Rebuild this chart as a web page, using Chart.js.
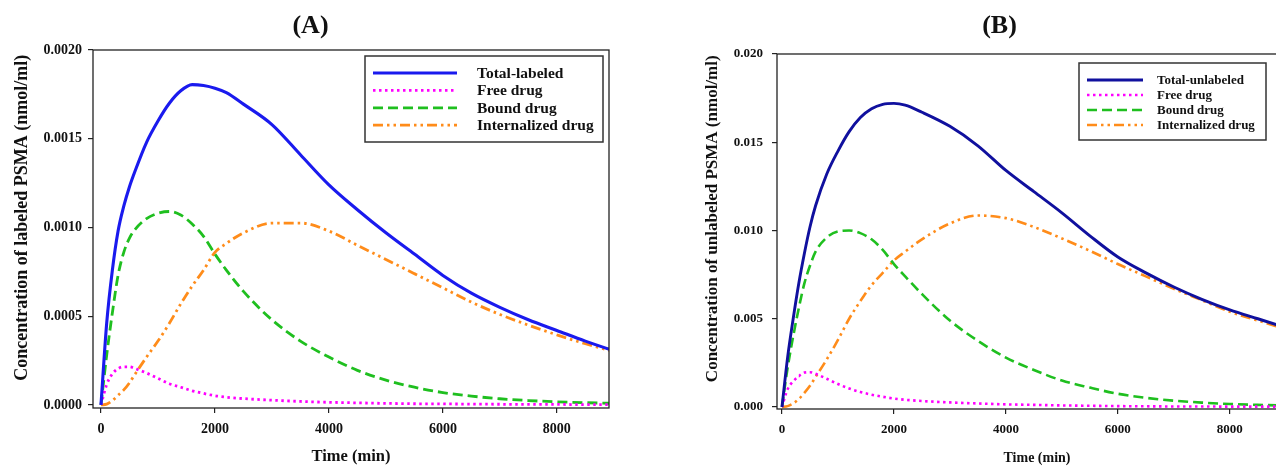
<!DOCTYPE html>
<html>
<head>
<meta charset="utf-8">
<script src="https://cdn.jsdelivr.net/npm/chart.js@4.4.1/dist/chart.umd.min.js"></script>
<style>
  html, body { margin: 0; padding: 0; background: #fff; }
  body { width: 1276px; height: 467px; overflow: hidden; position: relative; }
  .wrap { position: absolute; top: 0; height: 467px; }
  #wrapA { left: 0; width: 640px; }
  #wrapB { left: 640px; width: 730px; }
  #fontWarm { position: absolute; left: -9999px; font: bold 16px 'Liberation Serif'; }
</style>
</head>
<body>
<span id="fontWarm">Concentration (A)</span>
<div class="wrap" id="wrapA"><canvas id="chartA"></canvas></div>
<div class="wrap" id="wrapB"><canvas id="chartB"></canvas></div>
<script>
// time grid (min), same for both panels
const timeMin = [0, 100, 200, 300, 400, 500, 600, 800, 1000, 1200, 1400, 1600, 1800, 2000, 2200,
  2500, 3000, 3500, 4000, 4500, 5000, 5500, 6000, 6500, 7000, 7500, 8000, 8500, 9000];

// (A) labeled PSMA, nmol/ml
const totalLabeled = [0, 0.00046, 0.00076, 0.00098, 0.00112, 0.00123, 0.00132, 0.00148, 0.00160, 0.00170,
  0.00177, 0.001805, 0.00180, 0.001785, 0.00176, 0.001695, 0.00158, 0.00141, 0.00124, 0.00110,
  0.00097, 0.00085, 0.00073, 0.00063, 0.00055, 0.00048, 0.00042, 0.00036, 0.000305];
const freeA = [0, 0.000115, 0.000175, 0.000205, 0.000215, 0.000215, 0.000205, 0.00018, 0.00015, 0.00012,
  0.0001, 0.00008, 0.000065, 0.000052, 0.000044, 0.000036, 0.000027, 0.00002, 0.000015, 0.000012,
  0.000009, 0.000007, 0.000006, 0.000005, 0.000004, 0.000003, 0.000003, 0.000002, 0.000002];
const boundA = [0, 0.00028, 0.00052, 0.00073, 0.00086, 0.00094, 0.00099, 0.00105, 0.00108, 0.00109,
  0.00107, 0.00102, 0.00095, 0.00085, 0.00076, 0.00064, 0.00048, 0.00036, 0.00027, 0.000195,
  0.00014, 0.0001, 0.00007, 0.00005, 0.000035, 0.000025, 0.000018, 0.000013, 0.000009];
const internalizedA = [0, 0.000005, 0.000025, 0.000055, 0.000085, 0.000125, 0.000175, 0.00027, 0.00036, 0.00046,
  0.00057, 0.00067, 0.00076, 0.00086, 0.00091, 0.00097, 0.001025, 0.001025, 0.00098, 0.0009,
  0.00082, 0.00074, 0.00066, 0.00058, 0.00051, 0.00045, 0.000395, 0.000345, 0.0003];

// (B) unlabeled PSMA, nmol/ml
const totalUnlabeled = [0, 0.0028, 0.005, 0.007, 0.0087, 0.0102, 0.0114, 0.0132, 0.0145, 0.0156,
  0.0164, 0.0169, 0.01715, 0.0172, 0.0171, 0.0167, 0.0159, 0.0148, 0.0134, 0.0122,
  0.011, 0.0097, 0.0085, 0.0076, 0.0068, 0.0061, 0.0055, 0.005, 0.0045];
const freeB = [0, 0.001, 0.00145, 0.00175, 0.00195, 0.00197, 0.00188, 0.0016, 0.0013, 0.00105,
  0.00085, 0.0007, 0.00058, 0.00048, 0.00041, 0.00034, 0.00026, 0.0002, 0.00015, 0.00012,
  0.00009, 0.00007, 0.00005, 0.00004, 0.00003, 0.00003, 0.00002, 0.00002, 0.00002];
const boundB = [0, 0.0022, 0.004, 0.0056, 0.007, 0.008, 0.0088, 0.0096, 0.00995, 0.01,
  0.00985, 0.0095, 0.0089, 0.0081, 0.0074, 0.0064, 0.0049, 0.00375, 0.0028, 0.0021,
  0.0015, 0.0011, 0.00075, 0.00052, 0.00036, 0.00025, 0.00017, 0.00012, 0.00008];
const internalizedB = [0, 0.00005, 0.0002, 0.00045, 0.0008, 0.0012, 0.0017, 0.0027, 0.0038, 0.005,
  0.006, 0.0069, 0.0076, 0.0083, 0.0088, 0.0095, 0.0104, 0.01085, 0.0107, 0.0102,
  0.00955, 0.00885, 0.0081, 0.0074, 0.0067, 0.00605, 0.0054, 0.0049, 0.0044];

const xTicks = [0, 2000, 4000, 6000, 8000];
const yTicksA = [0, 0.0005, 0.001, 0.0015, 0.002];
const yTicksB = [0, 0.005, 0.01, 0.015, 0.02];

const SERIF = "'Liberation Serif', 'Times New Roman', serif";
const NB = '\u00a0';

function pts(t, v) {
  return t.map((x, i) => ({ x: x, y: v[i] }));
}

function makeSets(total, totalLabel, totalColor, free, bound, intern, w) {
  return [
    { label: totalLabel, data: pts(timeMin, total), borderColor: totalColor, borderWidth: w + 0.3 },
    { label: 'Free drug', data: pts(timeMin, free), borderColor: '#ff00ff', borderWidth: w, borderDash: [2.5, 3.5] },
    { label: 'Bound drug', data: pts(timeMin, bound), borderColor: '#1fbf1f', borderWidth: w, borderDash: [10, 5] },
    { label: 'Internalized drug', data: pts(timeMin, intern), borderColor: '#ff8c1a', borderWidth: w, borderDash: [10, 4, 2.5, 4, 2.5, 4] }
  ];
}

// box round the plot area
const framePlugin = {
  id: 'frame',
  afterDatasetsDraw(chart) {
    const a = chart.chartArea;
    const ctx = chart.ctx;
    ctx.save();
    ctx.strokeStyle = '#222';
    ctx.lineWidth = 1.3;
    ctx.strokeRect(a.left, a.top, a.right - a.left, a.bottom - a.top);
    ctx.restore();
  }
};

// legend with a border, like the original figure
const boxLegend = {
  id: 'boxLegend',
  afterDraw(chart, args, o) {
    const ctx = chart.ctx;
    ctx.save();
    ctx.fillStyle = '#fff';
    ctx.fillRect(o.x, o.y, o.w, o.h);
    ctx.strokeStyle = '#333';
    ctx.lineWidth = 1.5;
    ctx.strokeRect(o.x, o.y, o.w, o.h);
    chart.data.datasets.forEach((ds, i) => {
      const y = o.y + o.rowTop + i * o.rowGap;
      ctx.beginPath();
      ctx.setLineDash(ds.borderDash || []);
      ctx.strokeStyle = ds.borderColor;
      ctx.lineWidth = ds.borderWidth;
      ctx.moveTo(o.x + o.lineStart, y);
      ctx.lineTo(o.x + o.lineEnd, y);
      ctx.stroke();
      ctx.setLineDash([]);
      ctx.fillStyle = '#111';
      ctx.font = 'bold ' + o.fontSize + 'px ' + SERIF;
      ctx.textBaseline = 'middle';
      ctx.fillText(ds.label, o.x + o.textStart, y + 1);
    });
    ctx.restore();
  }
};

function makeChart(id, cfg) {
  return new Chart(document.getElementById(id).getContext('2d'), {
    type: 'line',
    data: { datasets: cfg.datasets },
    options: {
      responsive: true,
      maintainAspectRatio: false,
      animation: false,
      devicePixelRatio: 1,
      layout: { padding: cfg.padding },
      elements: {
        point: { radius: 0 },
        line: { cubicInterpolationMode: 'monotone', fill: false }
      },
      plugins: {
        legend: { display: false },
        tooltip: { enabled: false },
        title: {
          display: true,
          text: cfg.title,
          color: '#111',
          font: { family: SERIF, size: 26, weight: 'bold' },
          padding: cfg.titlePad
        },
        boxLegend: cfg.legend
      },
      scales: {
        x: {
          type: 'linear',
          min: cfg.xMin,
          max: cfg.xMax,
          afterBuildTicks: s => { s.ticks = xTicks.map(v => ({ value: v })); },
          afterFit: s => { s.height = cfg.xHeight; },
          ticks: {
            autoSkip: false,
            maxRotation: 0,
            color: '#111',
            padding: 8,
            font: { family: SERIF, size: cfg.tickSize, weight: 'bold' },
            callback: v => String(v)
          },
          grid: { drawOnChartArea: false, tickLength: 5, color: '#222', lineWidth: 1.2 },
          border: { display: false },
          title: {
            display: true,
            text: 'Time (min)',
            color: '#111',
            padding: 0,
            font: { family: SERIF, size: cfg.xTitleSize, weight: 'bold' }
          }
        },
        y: {
          type: 'linear',
          min: cfg.yMin,
          max: cfg.yMax,
          afterBuildTicks: s => { s.ticks = cfg.yTicks.map(v => ({ value: v })); },
          afterFit: s => { s.width = cfg.yWidth; },
          ticks: {
            autoSkip: false,
            color: '#111',
            padding: cfg.yTickPad,
            font: { family: SERIF, size: cfg.tickSize, weight: 'bold' },
            callback: v => v.toFixed(cfg.digits)
          },
          grid: { drawOnChartArea: false, tickLength: 5, color: '#222', lineWidth: 1.2 },
          border: { display: false },
          title: {
            display: true,
            // leading spaces lift the rotated title a little, as in the figure
            text: NB.repeat(cfg.yTitleShift) + cfg.yTitle,
            color: '#111',
            padding: 0,
            font: { family: SERIF, size: cfg.yTitleSize, weight: 'bold' }
          }
        }
      }
    },
    plugins: [framePlugin, boxLegend]
  });
}

function drawAll() {
  makeChart('chartA', {
    datasets: makeSets(totalLabeled, 'Total-labeled', '#1a1aee', freeA, boundA, internalizedA, 2.8),
    title: '(A)',
    titlePad: { top: 10.4, bottom: 8.4 },
    padding: { left: 12, right: 31, top: 0, bottom: 0 },
    xMin: -140, xMax: 8915, xHeight: 59,
    yMin: -0.000017, yMax: 0.002, yTicks: yTicksA, digits: 4,
    yWidth: 81, yTickPad: 6,
    tickSize: 14, xTitleSize: 16.5, yTitleSize: 18,
    yTitle: 'Concentration of labeled PSMA (nmol/ml)', yTitleShift: 5,
    legend: { x: 365, y: 56, w: 238, h: 86, rowTop: 17, rowGap: 17.4, lineStart: 8, lineEnd: 92, textStart: 112, fontSize: 15.5 }
  });

  makeChart('chartB', {
    datasets: makeSets(totalUnlabeled, 'Total-unlabeled', '#10109e', freeB, boundB, internalizedB, 2.6),
    title: '(B)',
    titlePad: { top: 10.4, bottom: 12.4 },
    padding: { left: 62, right: 73, top: 0, bottom: 0 },
    xMin: -89, xMax: 9200, xHeight: 58,
    yMin: -0.000113, yMax: 0.02, yTicks: yTicksB, digits: 3,
    yWidth: 75, yTickPad: 9,
    tickSize: 13, xTitleSize: 14, yTitleSize: 17,
    yTitle: 'Concentration of unlabeled PSMA (nmol/ml)', yTitleShift: 6,
    legend: { x: 439, y: 63, w: 187, h: 77, rowTop: 17, rowGap: 15, lineStart: 8, lineEnd: 64, textStart: 78, fontSize: 13 }
  });
}

// make sure the bold face is ready before the canvas text is drawn
Promise.all([
  document.fonts.load("bold 16px 'Liberation Serif'"),
  document.fonts.load("16px 'Liberation Serif'")
]).then(drawAll, drawAll);
</script>
</body>
</html>
